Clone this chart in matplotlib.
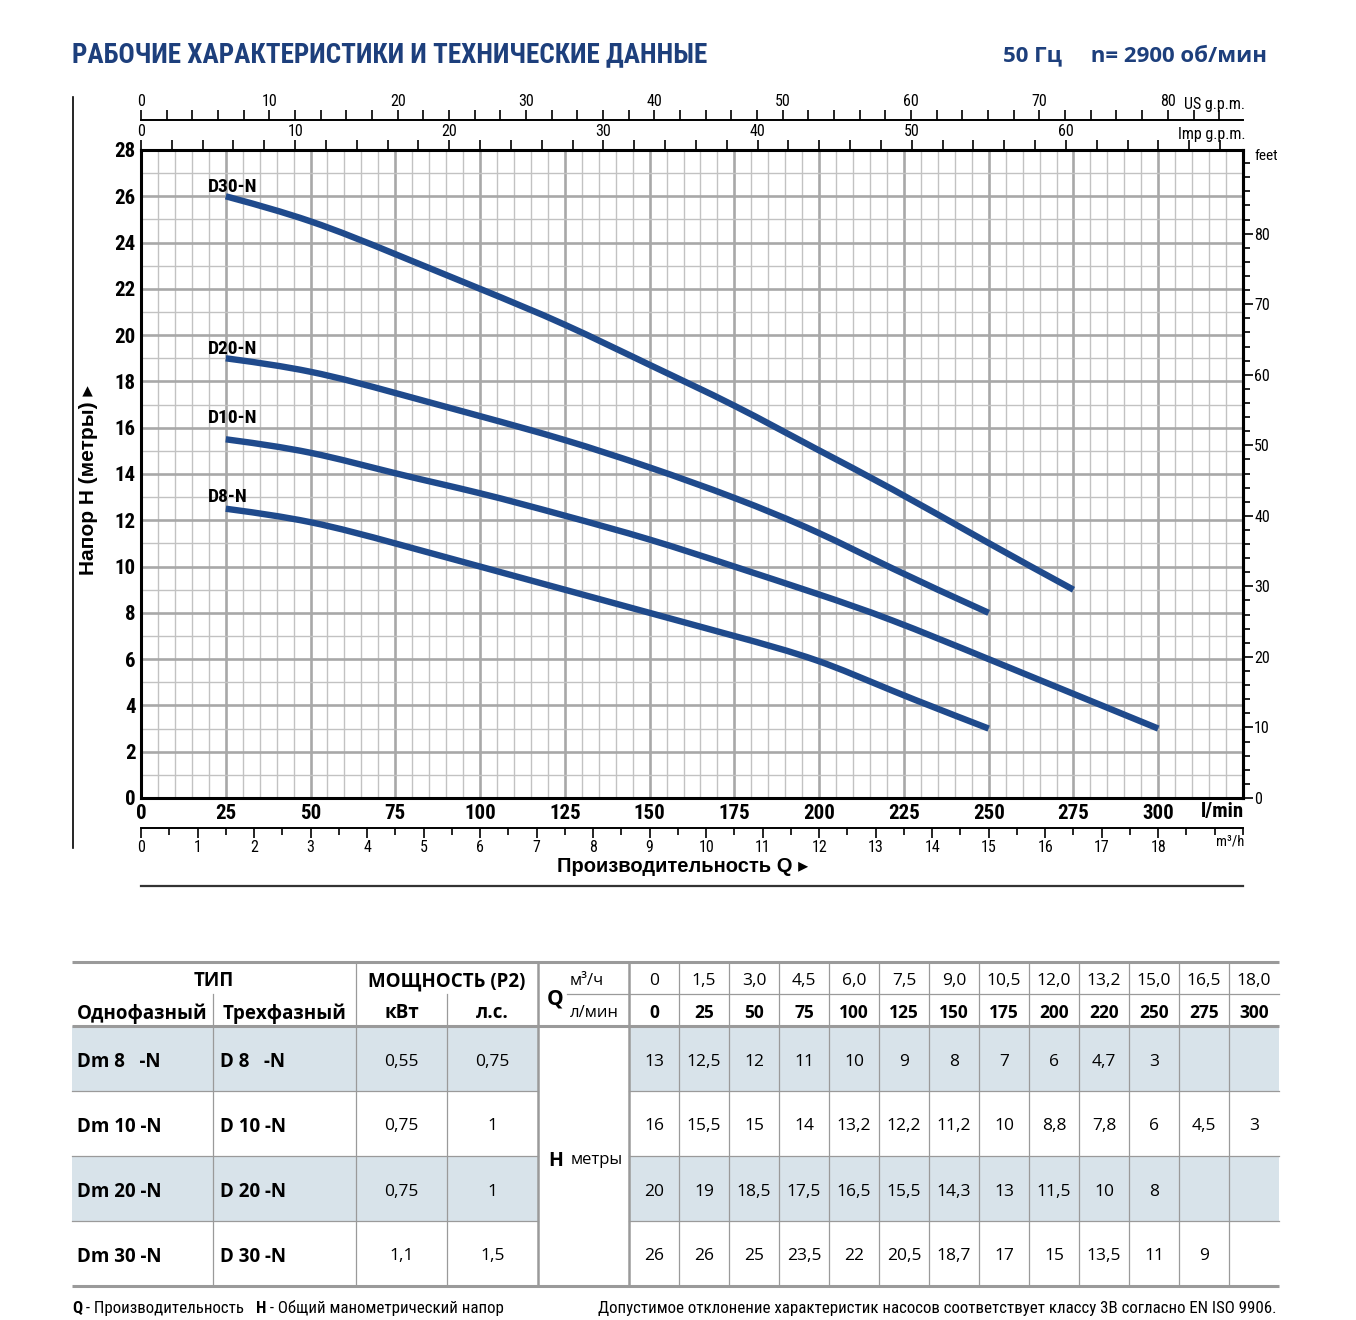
import matplotlib
matplotlib.use('Agg')
import matplotlib.pyplot as plt
from matplotlib import font_manager
from matplotlib.ticker import MultipleLocator
from matplotlib.patches import Rectangle, PathPatch
from matplotlib.path import Path

# -----------------------------------------------------
# Data read from the chart / table

q_lmin = [0, 25, 50, 75, 100, 125, 150, 175, 200, 220, 250, 275, 300]
q_m3h = [0, 1.5, 3.0, 4.5, 6.0, 7.5, 9.0, 10.5, 12.0, 13.2, 15.0, 16.5, 18.0]

models = ['D8-N', 'D10-N', 'D20-N', 'D30-N']
single_phase = ['Dm 8   -N', 'Dm 10 -N', 'Dm 20 -N', 'Dm 30 -N']
three_phase = ['D 8   -N', 'D 10 -N', 'D 20 -N', 'D 30 -N']
power_kw = ['0,55', '0,75', '0,75', '1,1']
power_hp = ['0,75', '1', '1', '1,5']

head_d8 = [13, 12.5, 12, 11, 10, 9, 8, 7, 6, 4.7, 3, None, None]
head_d10 = [16, 15.5, 15, 14, 13.2, 12.2, 11.2, 10, 8.8, 7.8, 6, 4.5, 3]
head_d20 = [20, 19, 18.5, 17.5, 16.5, 15.5, 14.3, 13, 11.5, 10, 8, None, None]
head_d30 = [26, 26, 25, 23.5, 22, 20.5, 18.7, 17, 15, 13.5, 11, 9, None]
heads = [head_d8, head_d10, head_d20, head_d30]

# -----------------------------------------------------
# Fonts and colours

names = {f.name for f in font_manager.fontManager.ttflist}
NARROW = 'DejaVu Sans'
for cand in ['Liberation Sans Narrow', 'Roboto Condensed', 'Liberation Sans']:
    if cand in names:
        NARROW = cand
        break
HUMAN = 'Open Sans' if 'Open Sans' in names else 'DejaVu Sans'
HELV = ['Liberation Sans', 'DejaVu Sans']

TITLE_BLUE = '#1d3f7c'
CURVE_BLUE = '#1f4a8c'
SHADE = '#d8e3ea'
TLINE = '#9a9a9a'

W, H = 1356, 1320
fig = plt.figure(figsize=(W / 100, H / 100), dpi=100)


def box(l, t, r, b):
    return [l / W, 1 - b / H, (r - l) / W, (b - t) / H]


def smooth_path(xs, ys):
    """Clamped cubic B-spline with the points as control polygon, as Bezier pieces."""
    p = [(xs[0], ys[0])] * 2 + list(zip(xs, ys)) + [(xs[-1], ys[-1])] * 2
    verts, codes = [], []
    for i in range(1, len(p) - 2):
        a, b, c, d = p[i - 1], p[i], p[i + 1], p[i + 2]
        b0 = ((a[0] + 4 * b[0] + c[0]) / 6, (a[1] + 4 * b[1] + c[1]) / 6)
        b1 = ((2 * b[0] + c[0]) / 3, (2 * b[1] + c[1]) / 3)
        b2 = ((b[0] + 2 * c[0]) / 3, (b[1] + 2 * c[1]) / 3)
        b3 = ((b[0] + 4 * c[0] + d[0]) / 6, (b[1] + 4 * c[1] + d[1]) / 6)
        if not verts:
            verts.append(b0)
            codes.append(Path.MOVETO)
        verts += [b1, b2, b3]
        codes += [Path.CURVE4] * 3
    return Path(verts, codes)


# overlay axes in pixel coordinates for titles, frame lines and the table
lay = fig.add_axes([0, 0, 1, 1], zorder=-1)
lay.set_xlim(0, W)
lay.set_ylim(H, 0)
lay.axis('off')

# -----------------------------------------------------
# Main chart

ax = fig.add_axes(box(141, 150, 1243, 798))
ax.set_xlim(0, 325)
ax.set_ylim(0, 28)
ax.set_axisbelow(True)

ax.set_xticks(range(0, 301, 25), [str(v) for v in range(0, 301, 25)],
              fontsize=15, fontweight='bold', family=NARROW)
ax.set_yticks(range(0, 29, 2), [str(v) for v in range(0, 29, 2)],
              fontsize=15, fontweight='bold', family=NARROW)
ax.xaxis.set_minor_locator(MultipleLocator(5))
ax.yaxis.set_minor_locator(MultipleLocator(1))
ax.tick_params(which='both', length=0)
ax.tick_params(axis='x', pad=4)
ax.tick_params(axis='y', pad=4)
ax.grid(which='minor', color='#c2c2c2', lw=1.0)
ax.grid(which='major', color='#a8a8a8', lw=1.9)
for s in ax.spines.values():
    s.set_linewidth(2.2)

label_dy = [7, 16, 4, 4]
for name, hh, dy in zip(models, heads, label_dy):
    xs = [q for q, h in zip(q_lmin, hh) if h is not None][1:]
    ys = [h for h in hh if h is not None][1:]
    ax.add_patch(PathPatch(smooth_path(xs, ys), fill=False, edgecolor=CURVE_BLUE,
                           lw=4.6, capstyle='butt', joinstyle='round', zorder=3))
    ax.annotate(name, (xs[0], ys[0]), xytext=(-18, dy), textcoords='offset pixels',
                ha='left', va='baseline', fontsize=14, fontweight='bold', family=NARROW)

# right axis in feet
ft = 3.28084
sec_r = ax.secondary_yaxis('right', functions=(lambda m: m * ft, lambda f: f / ft))
sec_r.set_yticks(range(0, 81, 10), [str(v) for v in range(0, 81, 10)],
                 fontsize=11.5, family=NARROW)
sec_r.yaxis.set_minor_locator(MultipleLocator(2))
sec_r.tick_params(which='major', length=7, width=1.2, pad=1)
sec_r.tick_params(which='minor', length=5, width=1.2)
sec_r.spines['right'].set_linewidth(2.2)

# top axes in gallons per minute
imp = 0.219969
us = 0.264172
sec_imp = ax.secondary_xaxis('top', functions=(lambda q: q * imp, lambda g: g / imp))
sec_imp.set_xticks(range(0, 61, 10), [str(v) for v in range(0, 61, 10)],
                   fontsize=11.5, family=NARROW)
sec_imp.xaxis.set_minor_locator(MultipleLocator(2))
sec_imp.tick_params(which='major', length=7, width=1.2, pad=1)
sec_imp.tick_params(which='minor', length=7, width=1.2)

sec_us = ax.secondary_xaxis(1 + 30 / 648, functions=(lambda q: q * us, lambda g: g / us))
sec_us.set_xticks(range(0, 81, 10), [str(v) for v in range(0, 81, 10)],
                  fontsize=11.5, family=NARROW)
sec_us.xaxis.set_minor_locator(MultipleLocator(2))
sec_us.tick_params(which='major', length=7, width=1.2, pad=1)
sec_us.tick_params(which='minor', length=7, width=1.2)
sec_us.spines['top'].set_linewidth(1.4)

# bottom axis in m3/h
sec_m3 = ax.secondary_xaxis(-30 / 648, functions=(lambda q: q * 0.06, lambda m: m / 0.06))
sec_m3.set_xticks(range(0, 19), [str(v) for v in range(0, 19)],
                  fontsize=11.5, family=NARROW)
sec_m3.xaxis.set_minor_locator(MultipleLocator(0.5))
sec_m3.tick_params(which='major', length=7, width=1.2, pad=2)
sec_m3.tick_params(which='minor', length=5, width=1.2)
sec_m3.spines['bottom'].set_linewidth(1.4)

# axis captions
lay.text(1245, 104, 'US g.p.m.', ha='right', va='center', fontsize=11.5, family=NARROW)
lay.text(1245, 134, 'Imp g.p.m.', ha='right', va='center', fontsize=11.5, family=NARROW)
lay.text(1254, 156, 'feet', ha='left', va='center', fontsize=11, family=NARROW)
lay.text(1244, 812, 'l/min', ha='right', va='center', fontsize=15, fontweight='bold', family=NARROW)
lay.text(1244, 842, 'm³/h', ha='right', va='center', fontsize=10.5, family=NARROW)
lay.text(88, 480, 'Напор H (метры) ▸', rotation=90, ha='center', va='center',
         fontsize=15, fontweight='bold', family=HELV)
lay.text(683, 866, 'Производительность Q ▸', ha='center', va='center',
         fontsize=14.5, fontweight='bold', family=HELV)
lay.plot([73, 73], [97, 848], color='black', lw=1.2)
lay.plot([141, 1243], [886, 886], color='#333333', lw=1.6)

# titles
lay.text(72, 55, 'РАБОЧИЕ ХАРАКТЕРИСТИКИ И ТЕХНИЧЕСКИЕ ДАННЫЕ', ha='left', va='center',
         fontsize=19.5, fontweight='bold', color=TITLE_BLUE, family=NARROW)
lay.text(1267, 55, '50 Гц     n= 2900 об/мин', ha='right', va='center',
         fontsize=16, fontweight='bold', color=TITLE_BLUE, family=HUMAN)

# -----------------------------------------------------
# Table

col_x = [72, 213, 356, 447, 538, 629] + [629 + 50 * (i + 1) for i in range(len(q_lmin))]
row_y = [962, 994, 1026, 1091, 1156, 1221, 1286]
val_left = col_x[5]
val_right = col_x[-1]

for r in (0, 2):
    y0, y1 = row_y[2 + r], row_y[3 + r]
    lay.add_patch(Rectangle((col_x[0], y0), col_x[4] - col_x[0], y1 - y0, color=SHADE, lw=0))
    lay.add_patch(Rectangle((val_left, y0), val_right - val_left, y1 - y0, color=SHADE, lw=0))

for y in (row_y[0], row_y[2], row_y[-1]):
    lay.plot([col_x[0], val_right], [y, y], color=TLINE, lw=2.2, solid_capstyle='butt')
lay.plot([567, val_right], [row_y[1], row_y[1]], color=TLINE, lw=0.9)
for y in row_y[3:6]:
    lay.plot([col_x[0], col_x[4]], [y, y], color=TLINE, lw=0.9)
    lay.plot([val_left, val_right], [y, y], color=TLINE, lw=0.9)
for x in (col_x[1], col_x[3]):
    lay.plot([x, x], [row_y[1], row_y[-1]], color=TLINE, lw=0.9)
lay.plot([col_x[2], col_x[2]], [row_y[0], row_y[-1]], color=TLINE, lw=0.9)
for x in (col_x[4], col_x[5]):
    lay.plot([x, x], [row_y[0], row_y[-1]], color=TLINE, lw=1.8)
for x in col_x[6:-1]:
    lay.plot([x, x], [row_y[0], row_y[-1]], color=TLINE, lw=0.9)

hb = dict(fontsize=13.5, fontweight='bold', family=HUMAN, va='center_baseline', ha='center')
lay.text((col_x[0] + col_x[2]) / 2, 979, 'ТИП', **hb)
lay.text((col_x[2] + col_x[4]) / 2, 979, 'МОЩНОСТЬ (P2)', **hb)
lay.text((col_x[0] + col_x[1]) / 2, 1011, 'Однофазный', **hb)
lay.text((col_x[1] + col_x[2]) / 2, 1011, 'Трехфазный', **hb)
lay.text((col_x[2] + col_x[3]) / 2, 1011, 'кВт', **hb)
lay.text((col_x[3] + col_x[4]) / 2, 1011, 'л.с.', **hb)
lay.text(555, 996, 'Q', fontsize=15, fontweight='bold', family=HUMAN, ha='center', va='center_baseline')
lay.text(587, 979, 'м³/ч', fontsize=12, family=HUMAN, ha='center', va='center_baseline')
lay.text(594, 1011, 'л/мин', fontsize=12, family=HUMAN, ha='center', va='center_baseline')
lay.text(556, 1158, 'H', fontsize=14, fontweight='bold', family=HUMAN, ha='center', va='center_baseline')
lay.text(571, 1158, 'метры', fontsize=12, family=HUMAN, ha='left', va='center_baseline')

for i in range(len(q_lmin)):
    cx = (col_x[5 + i] + col_x[6 + i]) / 2
    m = '0' if q_m3h[i] == 0 else ('%.1f' % q_m3h[i]).replace('.', ',')
    lay.text(cx, 979, m, fontsize=12.5, family=HUMAN, ha='center', va='center_baseline')
    lay.text(cx, 1011, str(q_lmin[i]), fontsize=12.5, fontweight='bold', family=HUMAN,
             ha='center', va='center_baseline')

for r in range(len(models)):
    cy = (row_y[2 + r] + row_y[3 + r]) / 2 + 1
    lay.text(77, cy, single_phase[r], fontsize=13.5, fontweight='bold', family=HUMAN,
             va='center_baseline')
    lay.text(220, cy, three_phase[r], fontsize=13.5, fontweight='bold', family=HUMAN,
             va='center_baseline')
    lay.text((col_x[2] + col_x[3]) / 2, cy, power_kw[r], fontsize=12.5, family=HUMAN,
             ha='center', va='center_baseline')
    lay.text((col_x[3] + col_x[4]) / 2, cy, power_hp[r], fontsize=12.5, family=HUMAN,
             ha='center', va='center_baseline')
    for i, h in enumerate(heads[r]):
        if h is None:
            continue
        cx = (col_x[5 + i] + col_x[6 + i]) / 2
        lay.text(cx, cy, ('%g' % h).replace('.', ','), fontsize=12.5, family=HUMAN,
                 ha='center', va='center_baseline')

# footer
fs = dict(fontsize=12.2, family=NARROW, va='center_baseline')
lay.text(72, 1307, 'Q', fontweight='bold', **fs)
lay.text(82, 1307, ' - Производительность', **fs)
lay.text(256, 1307, 'H', fontweight='bold', **fs)
lay.text(266, 1307, ' - Общий манометрический напор', **fs)
lay.text(1276, 1307, 'Допустимое отклонение характеристик насосов соответствует классу 3В согласно EN ISO 9906.',
         ha='right', **fs)

fig.savefig('out.png', dpi=100)
